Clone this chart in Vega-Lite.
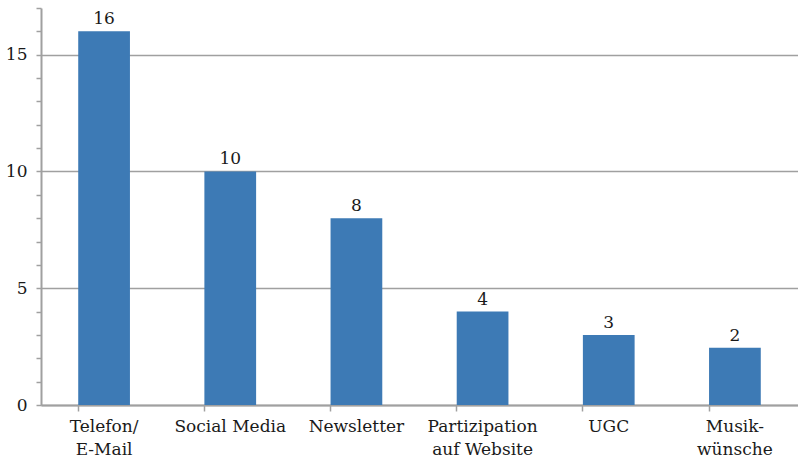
{
  "$schema": "https://vega.github.io/schema/vega-lite/v6.json",
  "width": 757,
  "height": 397,
  "autosize": {"type": "none"},
  "padding": {"left": 41, "top": 8, "right": 0, "bottom": 54},
  "background": "white",
  "config": {
    "view": {"stroke": null},
    "font": "DejaVu Serif",
    "axis": {"labelFont": "DejaVu Serif", "labelColor": "#1a1a1a", "labelFontSize": 17}
  },
  "data": {
    "values": [
      {"kategorie": "Telefon/E-Mail", "wert": 16, "beschriftung": "16"},
      {"kategorie": "Social Media", "wert": 10, "beschriftung": "10"},
      {"kategorie": "Newsletter", "wert": 8, "beschriftung": "8"},
      {"kategorie": "Partizipation auf Website", "wert": 4, "beschriftung": "4"},
      {"kategorie": "UGC", "wert": 3, "beschriftung": "3"},
      {"kategorie": "Musikwünsche", "wert": 2.45, "beschriftung": "2"}
    ]
  },
  "layer": [
    {
      "mark": {"type": "bar", "color": "#3d7ab5"},
      "encoding": {
        "x": {
          "field": "kategorie",
          "type": "nominal",
          "sort": null,
          "scale": {"paddingInner": 0.59, "paddingOuter": 0.295},
          "axis": {
            "orient": "bottom",
            "title": null,
            "labelAngle": 0,
            "ticks": false,
            "domain": false,
            "labelPadding": 13,
            "labelLineHeight": 23,
            "labelExpr": "datum.value == 'Telefon/E-Mail' ? ['Telefon/', 'E-Mail'] : datum.value == 'Partizipation auf Website' ? ['Partizipation', 'auf Website'] : datum.value == 'Musikwünsche' ? ['Musik-', 'wünsche'] : datum.value"
          }
        },
        "y": {
          "field": "wert",
          "type": "quantitative",
          "scale": {"domain": [0, 17], "nice": false},
          "axis": {
            "orient": "left",
            "title": null,
            "values": [0, 5, 10, 15],
            "grid": true,
            "gridColor": "#a0a0a0",
            "gridWidth": 1.5,
            "ticks": false,
            "domain": false,
            "labelPadding": 14
          }
        }
      }
    },
    {
      "mark": {"type": "text", "fontSize": 17, "baseline": "bottom", "dy": -3, "color": "#1a1a1a", "font": "DejaVu Serif"},
      "encoding": {
        "y": {
          "field": "wert",
          "type": "quantitative",
          "scale": {"domain": [0, 17], "nice": false},
          "axis": {
            "orient": "left",
            "title": null,
            "values": [0, 1, 2, 3, 4, 5, 6, 7, 8, 9, 10, 11, 12, 13, 14, 15, 16, 17],
            "labels": false,
            "grid": false,
            "ticks": true,
            "tickSize": 5,
            "tickColor": "#a0a0a0",
            "tickWidth": 1.5,
            "domain": true,
            "domainColor": "#a0a0a0",
            "domainWidth": 2
          }
        },
        "x": {
          "field": "kategorie",
          "type": "nominal",
          "sort": null,
          "scale": {"paddingInner": 0.59, "paddingOuter": 0.295},
          "axis": {
            "orient": "bottom",
            "title": null,
            "labels": false,
            "ticks": true,
            "bandPosition": 0,
            "tickSize": 6,
            "tickColor": "#a0a0a0",
            "tickWidth": 1.5,
            "domain": true,
            "domainColor": "#a0a0a0",
            "domainWidth": 2
          }
        },
        "text": {"field": "beschriftung"}
      }
    }
  ],
  "resolve": {"axis": {"x": "independent", "y": "independent"}}
}
